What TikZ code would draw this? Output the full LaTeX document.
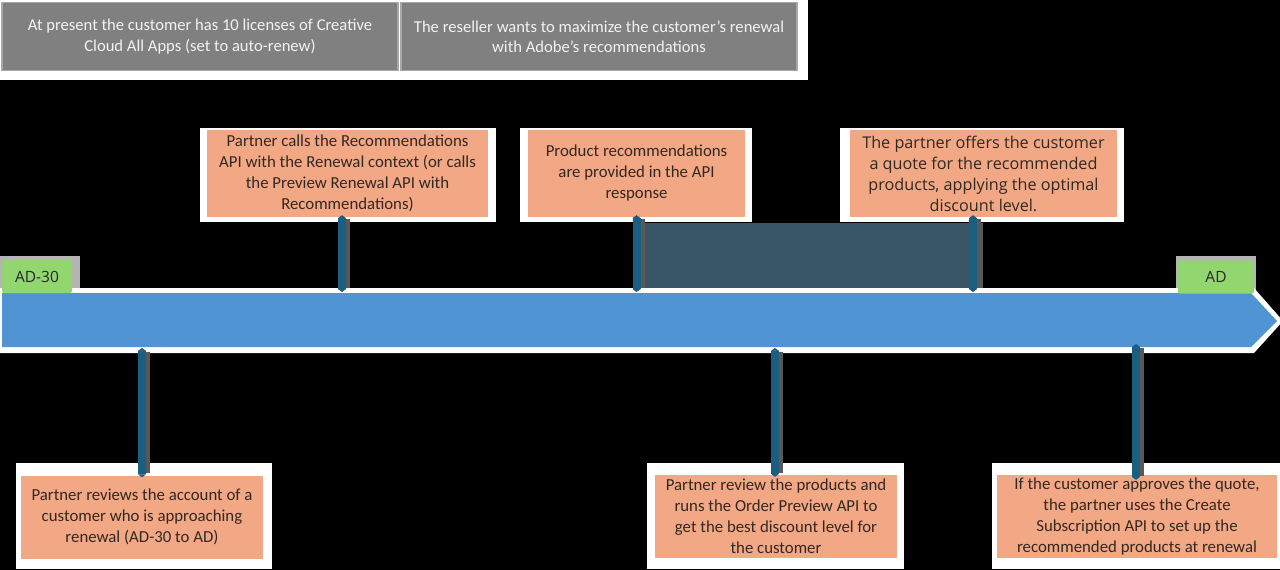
\documentclass[tikz,border=0pt]{standalone}
\usepackage{fontspec}
\setmainfont{Carlito}
\newfontfamily\segoe{Open Sans}
\usetikzlibrary{arrows.meta}
\definecolor{boxorange}{RGB}{242,168,132}
\definecolor{grayfill}{RGB}{128,128,128}
\definecolor{grayedge}{RGB}{168,168,168}
\definecolor{graytext}{RGB}{242,242,242}
\definecolor{tealline}{RGB}{26,95,130}
\definecolor{shgray}{RGB}{88,88,88}
\definecolor{tlblue}{RGB}{80,148,212}
\definecolor{adgreen}{RGB}{146,214,112}
\definecolor{adshadow}{RGB}{180,180,180}
\definecolor{darkband}{RGB}{55,85,100}
\definecolor{boxtext}{RGB}{50,40,34}
\pgfdeclarelayer{bottom}
\pgfdeclarelayer{bg}
\pgfdeclarelayer{frame}
\pgfsetlayers{bottom,bg,frame,main}
\begin{document}
\begin{tikzpicture}[x=1pt,y=-1pt,
  graybox/.style={fill=grayfill,draw=grayedge,line width=1.5pt,inner sep=0pt,
    minimum width=396pt,minimum height=68pt,align=center,text=graytext,
    font=\fontsize{16.6}{20.5}\selectfont},
  obox/.style={fill=boxorange,inner sep=0pt,align=center,text=boxtext,
    font=\fontsize{16.8}{21}\selectfont},
  adlabel/.style={fill=adgreen,rounded corners=2pt,inner sep=0pt,
    minimum height=33pt,text=black!85,font=\segoe\fontsize{15.5}{18}\selectfont},
  whiteframe/.style={fill=white},
  conn/.style={draw=tealline,line width=8pt,
    {Triangle[length=3pt,width=8pt]}-{Triangle[length=3pt,width=8pt]},
    preaction={draw=shgray,line width=6pt,-,shorten <=4pt,shorten >=4pt,
      transform canvas={xshift=5pt}}}
]
\begin{pgfonlayer}{bottom}
  \fill[black] (0,0) rectangle (1280,570);
  \fill[white] (0,0) rectangle (808,80);
\end{pgfonlayer}
\useasboundingbox (0,0) rectangle (1280,570);

% top gray boxes
\node[graybox] (g1) at (200,36.5) {At present the customer has 10 licenses of Creative\\Cloud All Apps (set to auto-renew)};
\node[graybox] (g2) at (599,36.5) {The reseller wants to maximize the customer’s renewal\\with Adobe’s recommendations};

% orange boxes
\node[obox,minimum width=281pt,minimum height=87pt] (A) at (347.5,173.5)
  {Partner calls the Recommendations\\API with the Renewal context (or calls\\the Preview Renewal API with\\Recommendations)};
\node[obox,minimum width=217pt,minimum height=87pt] (B) at (636.5,173.5)
  {Product recommendations\\are provided in the API\\response};
\node[obox,minimum width=267pt,minimum height=87pt,font=\segoe\fontsize{16.2}{21}\selectfont] (C) at (983.5,173.5)
  {The partner offers the customer\\a quote for the recommended\\products, applying the optimal\\discount level.};
\node[obox,minimum width=242pt,minimum height=83pt] (D) at (142,517)
  {Partner reviews the account of a\\customer who is approaching\\renewal (AD-30 to AD)};
\node[obox,minimum width=242pt,minimum height=83pt] (E) at (776,516.5)
  {Partner review the products and\\runs the Order Preview API to\\get the best discount level for\\the customer};
\node[obox,minimum width=280pt,minimum height=83pt] (F) at (1137,516.5)
  {If the customer approves the quote,\\the partner uses the Create\\Subscription API to set up the\\recommended products at renewal};

% AD labels
\node[adlabel,minimum width=70pt] (ad30) at (37,276.5) {AD-30};
\node[adlabel,minimum width=76pt] (ad) at (1216,277) {AD};

\begin{pgfonlayer}{frame}
  \fill[whiteframe] ([shift={(-7,-2)}]A.north west) rectangle ([shift={(8,5)}]A.south east);
  \fill[whiteframe] ([shift={(-8,-2)}]B.north west) rectangle ([shift={(7,5)}]B.south east);
  \fill[whiteframe] ([shift={(-10,-2)}]C.north west) rectangle ([shift={(7,5)}]C.south east);
  \fill[whiteframe] ([shift={(-5,-12)}]D.north west) rectangle ([shift={(9,10)}]D.south east);
  \fill[whiteframe] ([shift={(-8,-12)}]E.north west) rectangle ([shift={(7,11)}]E.south east);
  \fill[whiteframe] ([shift={(-5,-12)}]F.north west) rectangle ([shift={(5,11)}]F.south east);
\end{pgfonlayer}

\begin{pgfonlayer}{bg}
  % label shadows
  \fill[adshadow] ([shift={(-2,-4)}]ad30.north west) rectangle ([shift={(8,0)}]ad30.south east);
  \fill[adshadow] ([shift={(-2,-4)}]ad.north west) rectangle ([shift={(2,0)}]ad.south east);
  % dark band between B and C
  \fill[shgray] (638,223) rectangle (983,288);
  \fill[darkband] (638,223) rectangle (978,288);
  % timeline
  \fill[white] (0,288) -- (1254,288) -- (1283,321) -- (1254,353) -- (0,353) -- cycle;
  \fill[tlblue] (2,293) -- (1251,293) -- (1277,321) -- (1251,347) -- (2,347) -- cycle;
\end{pgfonlayer}

\coordinate (tltop) at (0,292);
\coordinate (tlbot) at (0,348);

% connectors
\draw[conn] ([xshift=-5.5pt,yshift=2pt]A.south) -- ([xshift=-5.5pt]A.south |- tltop);
\draw[conn] ([yshift=2pt]B.south) -- (B.south |- tltop);
\draw[conn] ([xshift=-10.5pt,yshift=2pt]C.south) -- ([xshift=-10.5pt]C.south |- tltop);
\draw[conn] (D.north |- tlbot) -- ([yshift=-2pt]D.north);
\draw[conn] ([xshift=-1pt]E.north |- tlbot) -- ([xshift=-1pt,yshift=-2pt]E.north);
\draw[conn] ([xshift=-1pt,yshift=4pt]F.north |- tlbot) -- ([xshift=-1pt,yshift=-5pt]F.north);
\end{tikzpicture}
\end{document}
